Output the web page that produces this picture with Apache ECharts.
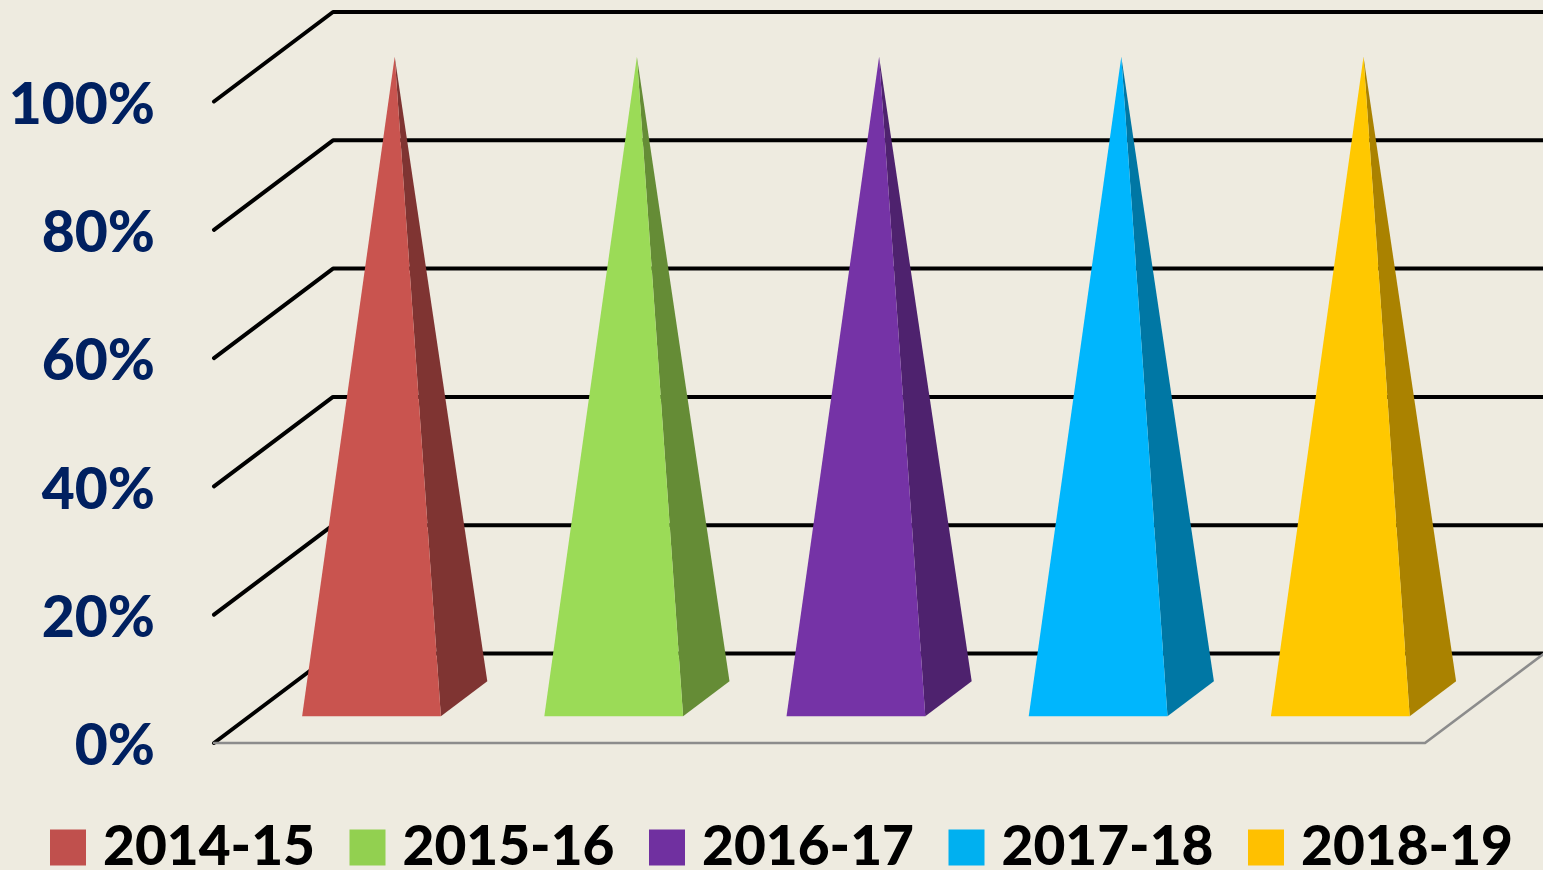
<!DOCTYPE html>
<html>
<head>
<meta charset="utf-8">
<style>html,body{margin:0;padding:0;background:#EEEBE0}#c{width:1543px;height:870px}</style>
<script src="https://cdn.jsdelivr.net/npm/echarts@6/dist/echarts.min.js"></script>
</head>
<body>
<div id="c"></div>
<script>
const categories = ['2014-15', '2015-16', '2016-17', '2017-18', '2018-19'];
const values = [100, 100, 100, 100, 100];
const tickValues = [0, 20, 40, 60, 80, 100];
const frontColors = ['#C9544F', '#9BDB57', '#7533A6', '#00B6FD', '#FFC800'];
const sideColors = ['#7F3432', '#658C36', '#4E226E', '#0077A4', '#AA8200'];
const legendColors = ['#C0504D', '#92D050', '#7030A0', '#00B0F0', '#FFC000'];

const DX = 119, DY = -89.5;
const FRONT = 0.3, BACK = 0.69, APEX_X = 0.495, APEX_Y = 0.5, HALF = 0.2865, SHIFT = 0.7;
const INK = '#000000', FLOOR = '#8C8C8C';

function line(pts, color, w) {
  return {
    type: 'polyline',
    shape: { points: pts },
    style: { fill: null, stroke: color, lineWidth: w, lineCap: 'round', lineJoin: 'round' }
  };
}

const wallSeries = {
  type: 'custom', name: 'walls', silent: true, z: 1, clip: false,
  data: tickValues.map(v => [0, v]),
  encode: { x: 0, y: 1 },
  renderItem: function (params, api) {
    const v = api.value(1);
    const p = api.coord([0, v]);
    const left = params.coordSys.x;
    const right = left + params.coordSys.width;
    return line([[left, p[1]], [left + DX, p[1] + DY], [right + DX + 4, p[1] + DY]], INK, 4);
  }
};

const floorSeries = {
  type: 'custom', name: 'floor', silent: true, z: 2, clip: false,
  data: [[0, 0]],
  encode: { x: 0, y: 1 },
  renderItem: function (params, api) {
    const p = api.coord([0, 0]);
    const left = params.coordSys.x;
    const right = left + params.coordSys.width;
    return line([[left, p[1]], [right, p[1]], [right + DX, p[1] + DY]], FLOOR, 2.6);
  }
};

function pyramidSeries(i) {
  return {
    type: 'custom', name: categories[i], z: 3, clip: false,
    itemStyle: { color: legendColors[i] },
    data: [[i, values[i]]],
    encode: { x: 0, y: 1 },
    renderItem: function (params, api) {
      const base = api.coord([api.value(0), 0]);
      const top = api.coord([api.value(0), api.value(1)]);
      const half = api.size([1, 0])[0] * HALF;
      const cx = base[0] + SHIFT;
      const fl = [cx - half + FRONT * DX, base[1] + FRONT * DY];
      const fr = [cx + half + FRONT * DX, base[1] + FRONT * DY];
      const br = [cx + half + BACK * DX, base[1] + BACK * DY];
      const apex = [cx + APEX_X * DX, top[1] + APEX_Y * DY];
      return {
        type: 'group',
        children: [
          { type: 'polygon', shape: { points: [apex, fr, br] }, style: { fill: sideColors[i] } },
          { type: 'polygon', shape: { points: [apex, fl, fr] }, style: { fill: frontColors[i] } }
        ]
      };
    }
  };
}

const chart = echarts.init(document.getElementById('c'), null, { renderer: 'canvas' });
chart.setOption({
  backgroundColor: '#EEEBE0',
  animation: false,
  grid: { left: 214, top: 101.5, width: 1211, height: 641.5, containLabel: false },
  xAxis: {
    type: 'category', data: categories,
    axisLine: { show: false }, axisTick: { show: false }, axisLabel: { show: false }, splitLine: { show: false }
  },
  yAxis: {
    type: 'value', min: 0, max: 100, interval: 20,
    axisLine: { show: false }, axisTick: { show: false }, splitLine: { show: false },
    axisLabel: {
      formatter: '{a|{value}%}', margin: 59,
      rich: {
        a: {
          color: '#002060', fontFamily: 'Lato', fontWeight: 900, fontSize: 57,
          lineHeight: 57, padding: [8, 0, 0, 0]
        }
      }
    }
  },
  legend: {
    left: 50, top: 820, padding: 0,
    data: categories,
    icon: 'rect', itemWidth: 36, itemHeight: 36, itemGap: 30.5,
    selectedMode: false,
    textStyle: {
      color: '#000000', fontFamily: 'Lato', fontWeight: 900, fontSize: 55,
      padding: [0, 0, 0, 12], width: 216, overflow: 'none', lineHeight: 36
    }
  },
  series: [wallSeries, floorSeries].concat(categories.map((c, i) => pyramidSeries(i)))
});
</script>
</body>
</html>
